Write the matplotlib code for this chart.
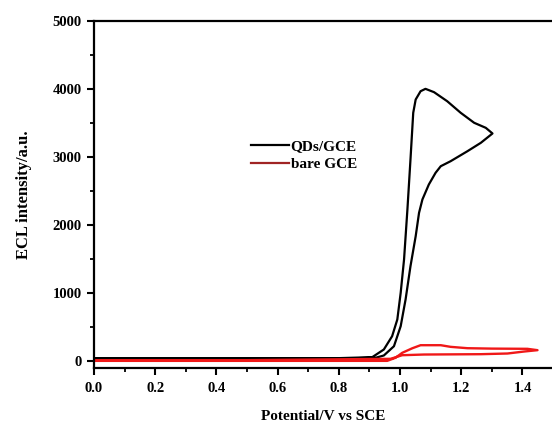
import matplotlib.pyplot as plt
from matplotlib.lines import Line2D

plt.rcParams['font.family'] = ['Liberation Serif', 'DejaVu Serif']
plt.rcParams['font.weight'] = 'bold'

# QDs/GCE curve (loop: rising scan up to 1.3 V, then back)
qds_x = [0.0, 0.40, 0.80, 0.909, 0.947, 0.974, 0.991, 1.002, 1.013, 1.024, 1.034, 1.043,
         1.051, 1.067, 1.083, 1.111, 1.154, 1.198, 1.242, 1.280, 1.302,
         1.264, 1.220, 1.165, 1.133, 1.116, 1.094, 1.073, 1.062, 1.051, 1.034, 1.018,
         1.002, 0.980, 0.947, 0.920, 0.80, 0.40, 0.0]
qds_y = [45, 45, 45, 59, 172, 367, 613, 1005, 1495, 2230, 2964, 3651,
         3846, 3968, 4003, 3954, 3821, 3651, 3504, 3430, 3347,
         3210, 3086, 2939, 2866, 2769, 2597, 2377, 2181, 1837, 1396, 907,
         514, 220, 84, 50, 40, 40, 40]

# bare GCE curve
bare_x = [0.0, 0.50, 0.958, 0.985, 1.007, 1.040, 1.067, 1.133, 1.165, 1.220, 1.300, 1.416,
          1.449, 1.405, 1.351, 1.264, 1.078, 1.007, 0.969, 0.50, 0.0]
bare_y = [5, 5, 5, 50, 123, 190, 235, 235, 211, 191, 185, 182,
          162, 142, 113, 103, 98, 88, 35, 15, 15]

fig = plt.figure(figsize=(5.52, 4.24), dpi=100)
ax = fig.add_axes([94 / 552, 56 / 424, 1.002 - 94 / 552, (368.5 - 21.5) / 424])

ax.plot(qds_x, qds_y, color='black', lw=1.6)
ax.plot(bare_x, bare_y, color='#f01818', lw=1.7)

ax.set_xlim(0, 1.5)
ax.set_ylim(-100, 5000)
ax.set_xticks([0.0, 0.2, 0.4, 0.6, 0.8, 1.0, 1.2, 1.4])
ax.set_xticks([0.1, 0.3, 0.5, 0.7, 0.9, 1.1, 1.3], minor=True)
ax.set_yticks([0, 1000, 2000, 3000, 4000, 5000])
ax.set_yticks([500, 1500, 2500, 3500, 4500], minor=True)
ax.tick_params(which='major', direction='out', length=5, width=1.5, labelsize=10.5)
ax.tick_params(axis='x', which='major', pad=5)
ax.tick_params(axis='y', which='major', pad=4)
ax.tick_params(which='minor', direction='out', length=3, width=1.3)
for lab in ax.get_xticklabels() + ax.get_yticklabels():
    lab.set_fontweight('bold')

for s in ax.spines.values():
    s.set_linewidth(1.6)
ax.spines['right'].set_visible(False)

ax.set_xlabel('Potential/V vs SCE', fontsize=11, fontweight='bold', labelpad=11)
ax.set_ylabel('ECL intensity/a.u.', fontsize=12, fontweight='bold', labelpad=15)

handles = [Line2D([], [], color='black', lw=1.6),
           Line2D([], [], color='#a02424', lw=1.6)]
ax.legend(handles, ['QDs/GCE', 'bare GCE'], loc='upper left',
          bbox_to_anchor=(0.312, 0.699), frameon=False,
          handlelength=2.5, handletextpad=0.1, labelspacing=0.3,
          prop={'weight': 'bold', 'size': 11})

fig.savefig('out.png', dpi=100)
